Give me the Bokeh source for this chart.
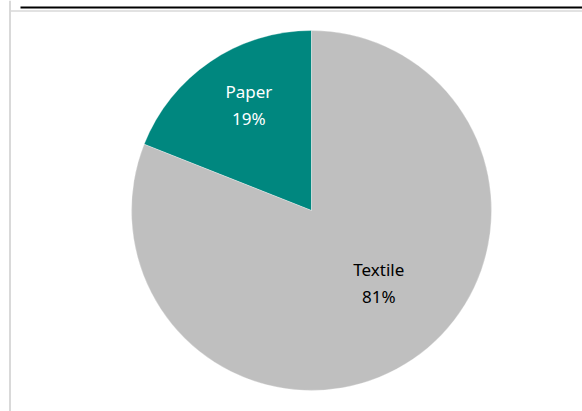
import math
from bokeh.plotting import figure
from bokeh.models import Range1d, ColumnDataSource
from bokeh.core.properties import value
from bokeh.embed import file_html
from bokeh.resources import INLINE

categories = ["Paper", "Textile"]
shares = [19, 81]
colors = ["#00877F", "#BFBFBF"]
text_colors = ["#FFFFFF", "#000000"]

W, H = 582, 411
cx, cy, R = 311, H - 210, 180

total = sum(shares)
start, ends, starts, mids = math.pi / 2, [], [], []
for s in shares:
    a = s / total * 2 * math.pi
    starts.append(start)
    ends.append(start + a)
    mids.append(start + a / 2)
    start += a

src = ColumnDataSource(dict(cat=categories, start=starts, end=ends, color=colors))

p = figure(width=W, height=H, output_backend="svg", toolbar_location=None,
           x_range=Range1d(0, W), y_range=Range1d(0, H), min_border=0)
p.axis.visible = False
p.grid.visible = False
p.outline_line_color = None
p.background_fill_color = "white"

p.wedge(x=cx, y=cy, radius=R, radius_units="screen", start_angle="start", end_angle="end",
        fill_color="color", line_color="white", line_width=0.3, source=src)

# frame lines of the surrounding document
p.segment(x0=[9.5], y0=[0], x1=[9.5], y1=[H], line_color="#D9D9D9", line_width=2)
p.segment(x0=[20], y0=[H - 7], x1=[W], y1=[H - 7], line_color="#000000", line_width=2)
p.segment(x0=[10], y0=[H - 10.5], x1=[W], y1=[H - 10.5], line_color="#D9D9D9", line_width=1.5)

label_r = [0.68, 0.55]
angle_adj = [-0.06, 0.15]
lx, ly = [], []
for m, r, adj in zip(mids, label_r, angle_adj):
    lx.append(cx + R * r * math.cos(m + adj))
    ly.append(cy + R * r * math.sin(m + adj))

for i in range(len(categories)):
    p.text(x=[lx[i]], y=[ly[i] + 14], text=[categories[i]], text_align="center",
           text_baseline="middle", text_color=text_colors[i],
           text_font=value("Noto Sans"), text_font_size="17px")
    p.text(x=[lx[i]], y=[ly[i] - 13], text=[f"{shares[i]}%"], text_align="center",
           text_baseline="middle", text_color=text_colors[i],
           text_font=value("Noto Sans"), text_font_size="17px")

open("out.html", "w").write(file_html(p, INLINE))
